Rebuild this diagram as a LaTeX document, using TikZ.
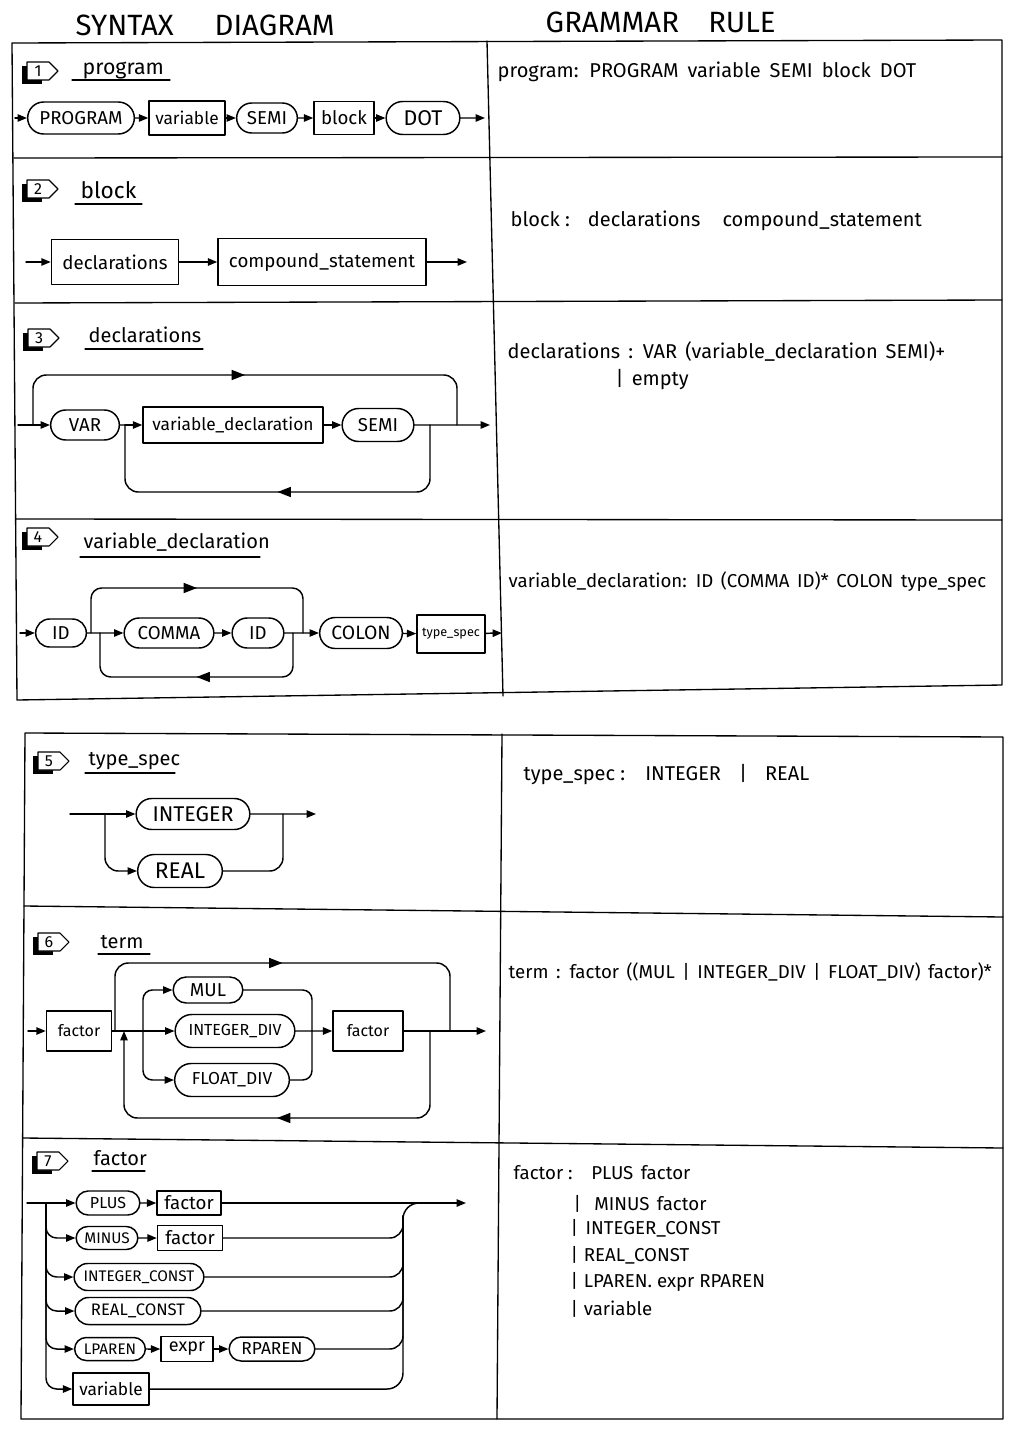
\documentclass[tikz,border=0pt]{standalone}
\usepackage{fontspec}
\setmainfont{Fira Sans}
\usetikzlibrary{arrows.meta,shapes.misc,decorations.markings}
\newcommand\secbadge[3]{%
  \fill (#1-5,#2+4) rectangle (#1+15,#2+22);
  \draw[fill=white,line width=0.8pt] (#1,#2) -- (#1+22,#2) -- (#1+31,#2+9) -- (#1+22,#2+18) -- (#1,#2+18) -- cycle;
  \node[font=\fontsize{12}{12}\selectfont,inner sep=0pt] (badge#3) at (#1+11,#2+9.5) {#3};}
\begin{document}
\begin{tikzpicture}[x=0.75pt,y=-0.75pt,line width=1.1pt,line join=round,line cap=round,
  tip/.style={-{Triangle[length=7pt,width=5.5pt]}},
  midarrow/.style={postaction={decorate,decoration={markings,mark=at position #1 with {\arrow{Triangle[length=10pt,width=7.5pt]}}}}},
  sz/.style 2 args={minimum width=#1*0.75pt,minimum height=#2*0.75pt},
  tok/.style={draw,rounded rectangle,inner xsep=2pt,inner ysep=0pt},
  nt/.style={draw,rectangle,inner xsep=2pt,inner ysep=0pt},
  fs/.style={font=\fontsize{#1}{#1}\selectfont},
  gram/.style={anchor=base west,inner sep=0pt,fs=14},
  wsp/.style={execute at begin node={\spaceskip=#1em plus 0.1em\relax}},
  title/.style={anchor=base west,inner sep=0pt,fs=15},
  grid/.style={line width=1pt},
  uline/.style={line width=0.9pt}]
\fill[white] (0,0) rectangle (1024,1430);
\useasboundingbox (0,0) rectangle (1024,1430);

% headers
\node[anchor=base west,inner sep=0pt,fs=22] (h1) at (75,36) {SYNTAX\hspace{1.4em}DIAGRAM};
\node[anchor=base west,inner sep=0pt,fs=22] (h2) at (545,33) {GRAMMAR\hspace{1.0em}RULE};

% top table
\draw[grid] (12,43) -- (1002,40) -- (1002,685) -- (17,700) -- cycle;
\draw[grid] (487,41) -- (503,696);
\draw[grid] (14,158) -- (1002,157);
\draw[grid] (15,303) -- (1002,300);
\draw[grid] (16,519) -- (1002,520);
% bottom table
\draw[grid] (25,733) -- (1003,737) -- (1003,1419) -- (21,1419) -- cycle;
\draw[grid] (502,734) -- (497,1419);
\draw[grid] (24,906) -- (1003,917);
\draw[grid] (23,1138) -- (1003,1148);

% ---------- 1 program
\secbadge{27}{62}{1}
\node[title,fs=16] (s1) at (82,75) {program};
\draw[uline] (72,80) -- (170,80);
\node[tok,sz={112}{32},fs=14] (p1) at (81,118) {PROGRAM};
\node[nt,sz={76}{34},fs=13] (p2) at (187,118) {variable};
\node[tok,sz={66}{30},fs=14] (p3) at (267,118) {SEMI};
\node[nt,sz={60}{33},fs=14] (p4) at (344,118) {block};
\node[tok,sz={79}{33},fs=16] (p5) at (423,118) {DOT};
\coordinate (p0) at (15,118);
\coordinate (pe) at (485,118);
\draw[tip] (p0) -- (p1);
\draw[tip] (p1) -- (p2);
\draw[tip] (p2) -- (p3);
\draw[tip] (p3) -- (p4);
\draw[tip] (p4) -- (p5);
\draw[tip] (p5) -- (pe);

% ---------- 2 block
\secbadge{27}{180}{2}
\node[title,fs=17] (s2) at (80,199) {block};
\draw[uline] (75,204) -- (142,204);
\node[nt,sz={127}{45},fs=14] (b1) at (115,262) {declarations};
\node[nt,sz={208}{47},fs=14] (b2) at (322,262) {compound\_statement};
\coordinate (b0) at (26,262);
\coordinate (be) at (467,262);
\draw[tip] (b0) -- (b1);
\draw[tip] (b1) -- (b2);
\draw[tip] (b2) -- (be);

% ---------- 3 declarations
\secbadge{28}{329}{3}
\node[title] (s3) at (88,342) {declarations};
\draw[uline] (85,349) -- (203,349);
\node[tok,sz={74}{30},fs=14] (d1) at (85,425) {VAR};
\node[nt,sz={180}{36},fs=13] (d2) at (233,425) {variable\_declaration};
\node[tok,sz={77}{33},fs=14] (d3) at (378,425) {SEMI};
\coordinate (d0) at (18,425);
\coordinate (dsplit) at (33,425);
\coordinate (dj) at (125,425);
\coordinate (dloop) at (430,425);
\coordinate (dmerge) at (457,425);
\coordinate (de) at (490,425);
\coordinate (dbl) at (125,492);
\draw (d0) -- (dsplit);
\draw[tip] (dsplit) -- (d1);
\draw (d1) -- (dj);
\draw[tip] (dj) -- (d2);
\draw[tip] (d2) -- (d3);
\draw[tip] (d3) -- (de);
\draw[rounded corners=10pt,midarrow=0.5] (dsplit) -- ++(0,-50) -| (dmerge);
\draw[rounded corners=10pt,midarrow=0.5] (dloop) |- (dbl) -- (dj);

% ---------- 4 variable_declaration
\secbadge{27}{528}{4}
\node[title] (s4) at (83,548) {variable\_declaration};
\draw[uline] (80,557) -- (260,557);
\node[tok,sz={56}{28},fs=14] (v1) at (61,633) {ID};
\node[tok,sz={95}{30},fs=14] (v2) at (169,633) {COMMA};
\node[tok,sz={57}{30},fs=14] (v3) at (258,633) {ID};
\node[tok,sz={88}{31},fs=14.5] (v4) at (361,633) {COLON};
\node[nt,sz={68}{38},fs=9.5] (v5) at (451,634) {type\_spec};
\coordinate (v0) at (20,633);
\coordinate (vsplit) at (91,633);
\coordinate (vj) at (100,633);
\coordinate (vloop) at (293,633);
\coordinate (vmerge) at (303,633);
\coordinate (ve) at (502,633);
\coordinate (vbl) at (100,677);
\draw[tip] (v0) -- (v1);
\draw[tip] (v1) -- (v2);
\draw[tip] (v2) -- (v3);
\draw[tip] (v3) -- (v4);
\draw[tip] (v4) -- (v5);
\draw[tip] (v5) -- (ve);
\draw[rounded corners=8pt,midarrow=0.5] (vsplit) -- ++(0,-45) -| (vmerge);
\draw[rounded corners=8pt,midarrow=0.5] (vloop) |- (vbl) -- (vj);

% ---------- 5 type_spec
\secbadge{38}{752}{5}
\node[title] (s5) at (88,765) {type\_spec};
\draw[uline] (85,773) -- (175,773);
\node[tok,sz={119}{31},fs=16] (t1) at (193,814) {INTEGER};
\node[tok,sz={90}{33},fs=17] (t2) at (180,871) {REAL};
\coordinate (t0) at (70,814);
\coordinate (tsplit) at (105,814);
\coordinate (tmerge) at (283,814);
\coordinate (te) at (316,814);
\draw (t0) -- (tsplit);
\draw[tip] (tsplit) -- (t1);
\draw[tip,rounded corners=10pt] (tsplit) |- (t2);
\draw[tip] (t1) -- (te);
\draw[rounded corners=10pt] (t2) -| (tmerge);

% ---------- 6 term
\secbadge{38}{933}{6}
\node[title] (s6) at (100,948) {term};
\draw[uline] (98,954) -- (150,954);
\node[nt,sz={65}{40},fs=12] (m1) at (79,1031) {factor};
\node[tok,sz={75}{26},fs=14] (m2) at (208,990) {MUL};
\node[tok,sz={125}{33},fs=12] (m3) at (235,1031) {INTEGER\_DIV};
\node[tok,sz={120}{33},fs=13] (m4) at (232,1080) {FLOAT\_DIV};
\node[nt,sz={70}{40},fs=12] (m5) at (368,1031) {factor};
\coordinate (m0) at (28,1031);
\coordinate (msplit) at (115,1031);
\coordinate (mj) at (124,1031);
\coordinate (mfork) at (143,1031);
\coordinate (mjoin) at (312,1031);
\coordinate (mloop) at (430,1031);
\coordinate (mmerge) at (450,1031);
\coordinate (me) at (486,1031);
\coordinate (mbl) at (124,1118);
\draw[tip] (m0) -- (m1);
\draw (m1) -- (mfork);
\draw[tip,rounded corners=7pt] (mfork) |- (m2);
\draw[tip] (mfork) -- (m3);
\draw[tip,rounded corners=7pt] (mfork) |- (m4);
\draw[rounded corners=7pt] (m2) -| (mjoin);
\draw[rounded corners=7pt] (m4) -| (mjoin);
\draw[tip] (m3) -- (m5);
\draw[tip] (m5) -- (me);
\draw[rounded corners=10pt,midarrow=0.5] (msplit) -- ++(0,-68) -| (mmerge);
\draw[tip,rounded corners=10pt,midarrow=0.5] (mloop) |- (mbl) -- (mj);

% ---------- 7 factor
\secbadge{37}{1152}{7}
\node[title] (s7) at (93,1165) {factor};
\draw[uline] (92,1171) -- (145,1171);
\node[tok,sz={69}{24},fs=12] (f1) at (108,1203) {PLUS};
\node[nt,sz={64}{24},fs=14] (f2) at (189,1203) {factor};
\node[tok,sz={67}{23},fs=11.5] (f3) at (107,1238) {MINUS};
\node[nt,sz={65}{25},fs=14] (f4) at (190,1238) {factor};
\node[tok,sz={135}{27},fs=11.5] (f5) at (139,1277) {INTEGER\_CONST};
\node[tok,sz={131}{27},fs=12.5] (f6) at (138,1311) {REAL\_CONST};
\node[tok,sz={76}{23},fs=11.5] (f7) at (110,1349) {LPAREN};
\node[nt,sz={52}{25},fs=13.5] (f8) at (187,1349) {expr};
\node[tok,sz={91}{24},fs=13] (f9) at (272,1349) {RPAREN};
\node[nt,sz={76}{32},fs=13] (f10) at (111,1389) {variable};
\coordinate (f0) at (27,1203);
\coordinate (fsplit) at (46,1203);
\coordinate (fm) at (403,1203);
\coordinate (fmv) at (403,1216);
\coordinate (fme) at (430,1203);
\coordinate (fe) at (466,1203);
\draw (f0) -- (fsplit);
\draw[tip] (fsplit) -- (f1);
\draw[tip,rounded corners=8pt] (fsplit) |- (f3);
\draw[tip,rounded corners=8pt] (fsplit) |- (f5);
\draw[tip,rounded corners=8pt] (fsplit) |- (f6);
\draw[tip,rounded corners=8pt] (fsplit) |- (f7);
\draw[tip,rounded corners=8pt] (fsplit) |- (f10);
\draw[tip] (f1) -- (f2);
\draw[tip] (f3) -- (f4);
\draw[tip] (f7) -- (f8);
\draw[tip] (f8) -- (f9);
\draw[tip] (f2) -- (fe);
\draw[rounded corners=10pt] (f4) -| (fmv);
\draw[rounded corners=10pt] (f5) -| (fmv);
\draw[rounded corners=10pt] (f6) -| (fmv);
\draw[rounded corners=10pt] (f9) -| (fmv);
\draw[rounded corners=12pt] (f10) -| (fm) -- (fme);

% ---------- grammar rules
\node[gram,fs=15,wsp=0.45] (g1) at (497,78) {program: PROGRAM variable SEMI block DOT};
\node[gram,fs=15] (g2) at (510,227) {block :\hspace{0.9em}declarations\hspace{1.1em}compound\_statement};
\node[gram,fs=15,wsp=0.4] (g3) at (507,358) {declarations : VAR (variable\_declaration SEMI)+};
\node[gram,fs=15] (g3b) at (615,385) {|\hspace{0.4em}empty};
\node[gram,wsp=0.4] (g4) at (508,587) {variable\_declaration: ID (COMMA ID)* COLON type\_spec};
\node[gram,fs=15] (g5) at (523,780) {type\_spec :\hspace{1em}INTEGER\hspace{0.9em}|\hspace{0.9em}REAL};
\node[gram,wsp=0.4] (g6) at (508,978) {term : factor ((MUL | INTEGER\_DIV | FLOAT\_DIV) factor)*};
\node[gram] (g7) at (513,1179) {factor :\hspace{1em}PLUS\hspace{0.4em}factor};
\node[gram] (g7b) at (573,1210) {|\hspace{0.7em}MINUS\hspace{0.4em}factor};
\node[gram] (g7c) at (570,1234) {|\hspace{0.4em}INTEGER\_CONST};
\node[gram] (g7d) at (570,1261) {|\hspace{0.3em}REAL\_CONST};
\node[gram] (g7e) at (570,1287) {|\hspace{0.3em}LPAREN. expr RPAREN};
\node[gram] (g7f) at (570,1315) {|\hspace{0.3em}variable};
\end{tikzpicture}
\end{document}
